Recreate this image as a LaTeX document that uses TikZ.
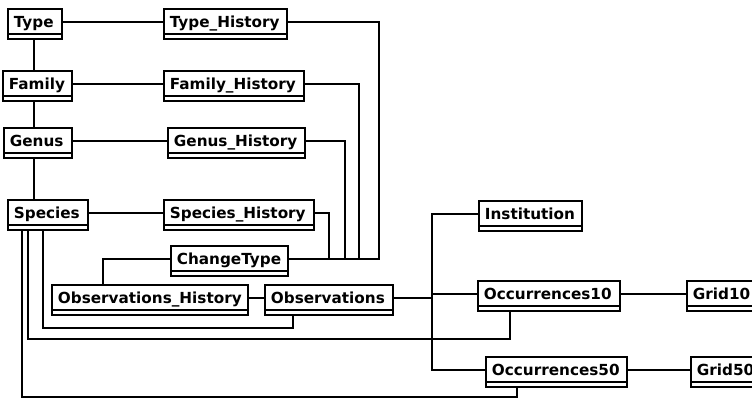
\documentclass[tikz,border=0pt]{standalone}
\usepackage{fontspec}
\setmainfont{DejaVu Sans}
\begin{document}
\begin{tikzpicture}[x=1bp,y=-1bp,line width=1.8bp,
  cls/.style={draw, anchor=north west, rectangle, inner xsep=6bp, inner ysep=0pt,
    minimum height=30bp, text height=11bp, text depth=3.5bp,
    font=\fontsize{15.3}{17}\selectfont\bfseries,
    path picture={\draw[line width=1.8bp] ([yshift=5bp]path picture bounding box.south west) -- ([yshift=5bp]path picture bounding box.south east);}},
  wire/.style={draw, line width=1.8bp}]
\useasboundingbox (0,0) rectangle (752,399);
\newcommand\umlbox[5]{%
  \pgfmathsetmacro\bw{#4-#2-12}%
  \node[cls] (#1) at (#2,#3) {\makebox[\bw bp][l]{#5}};}
\begin{scope}
\clip (0,0) rectangle (752,399);
\umlbox{Type}{7}{8}{61}{Type}
\umlbox{TypeH}{163}{8}{286}{Type\_History}
\umlbox{Family}{2}{70}{71}{Family}
\umlbox{FamilyH}{163}{70}{303}{Family\_History}
\umlbox{Genus}{3}{127}{71}{Genus}
\umlbox{GenusH}{167}{127}{304}{Genus\_History}
\umlbox{Species}{7}{199}{87}{Species}
\umlbox{SpeciesH}{163}{199}{313}{Species\_History}
\umlbox{ChangeType}{170}{245}{287}{ChangeType}
\umlbox{ObsH}{51}{284}{247}{Observations\_History}
\umlbox{Obs}{264}{284}{392}{Observations}
\umlbox{Inst}{478}{200}{581}{Institution}
\umlbox{Occ10}{477}{280}{619}{Occurrences10}
\umlbox{Grid10}{686}{280}{800}{Grid10}
\umlbox{Occ50}{485}{356}{626}{Occurrences50}
\umlbox{Grid50}{690}{356}{800}{Grid50}

% ports
\foreach \n in {Type,TypeH,Family,FamilyH,Genus,GenusH,Species,SpeciesH,ChangeType,ObsH,Obs,Inst,Occ10,Grid10,Occ50,Grid50}{
  \coordinate (\n E) at ([yshift=2bp]\n.east);
  \coordinate (\n W) at ([yshift=2bp]\n.west);
}
\coordinate (vx) at (34,0);
\coordinate (jT) at (379,0);
\coordinate (jF) at (359,0);
\coordinate (jG) at (345,0);
\coordinate (jS) at (329,0);
\coordinate (jC) at (103,0);
\coordinate (jB) at (432,0);
\coordinate (s1) at (22,0);
\coordinate (s2) at (28,0);
\coordinate (s3) at (43,0);
\coordinate (o1) at (293,0);
\coordinate (o2) at (510,0);
\coordinate (o3) at (517,0);
\coordinate (r1) at (0,328);
\coordinate (r2) at (0,339);
\coordinate (r3) at (0,397);

\path[wire] (TypeE) -- (TypeHW);
\path[wire] (FamilyE) -- (FamilyHW);
\path[wire] (GenusE) -- (GenusHW);
\path[wire] (SpeciesE) -- (SpeciesHW);
\path[wire] (vx |- Type.south) -- (vx |- Family.north);
\path[wire] (vx |- Family.south) -- (vx |- Genus.north);
\path[wire] (vx |- Genus.south) -- (vx |- Species.north);

\path[wire] (TypeHE) -| (jT |- ChangeTypeE) -- (ChangeTypeE);
\path[wire] (FamilyHE) -| (jF |- ChangeTypeE);
\path[wire] (GenusHE) -| (jG |- ChangeTypeE);
\path[wire] (SpeciesHE) -| (jS |- ChangeTypeE);
\path[wire] (ChangeTypeW) -| (jC |- ObsH.north);
\path[wire] (ObsHE) -- (ObsW);

\path[wire] (ObsE) -- (jB |- ObsE);
\path[wire] (InstW) -| (jB |- Occ50W) -- (Occ50W);
\path[wire] (jB |- Occ10W) -- (Occ10W);
\path[wire] (Occ10E) -- (Grid10W);
\path[wire] (Occ50E) -- (Grid50W);

\path[wire] (s3 |- Species.south) -- (s3 |- r1) -| (o1 |- Obs.south);
\path[wire] (s2 |- Species.south) -- (s2 |- r2) -| (o2 |- Occ10.south);
\path[wire] (s1 |- Species.south) -- (s1 |- r3) -| (o3 |- Occ50.south);
\end{scope}
\end{tikzpicture}
\end{document}
